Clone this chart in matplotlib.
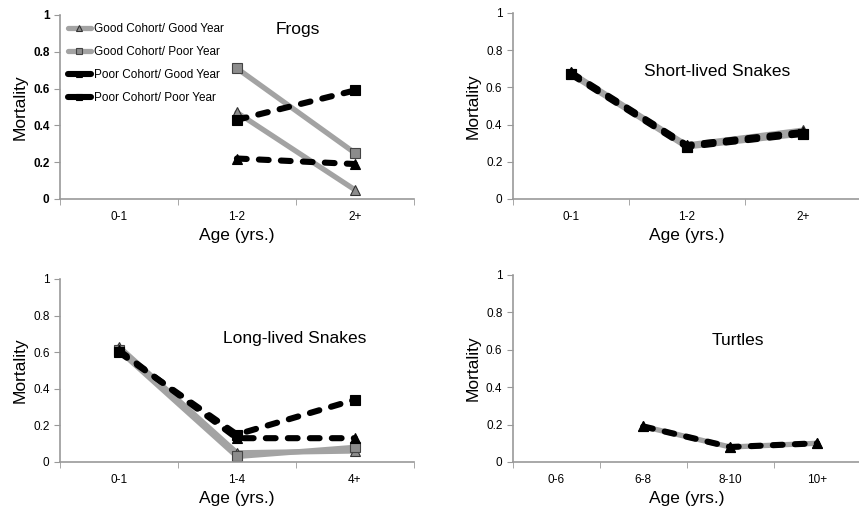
import matplotlib
matplotlib.use("Agg")
import matplotlib.pyplot as plt
from matplotlib.lines import Line2D

plt.rcParams['font.family'] = ['Liberation Sans', 'DejaVu Sans']

series_names = ['Good Cohort/ Good Year', 'Good Cohort/ Poor Year',
                'Poor Cohort/ Good Year', 'Poor Cohort/ Poor Year']

# Frogs (no data for 0-1)
frog_ages = ['0-1', '1-2', '2+']
frog_gg = [None, 0.47, 0.05]
frog_gp = [None, 0.71, 0.25]
frog_pg = [None, 0.22, 0.19]
frog_pp = [None, 0.43, 0.59]

# Short-lived snakes
short_ages = ['0-1', '1-2', '2+']
short_gg = [0.68, 0.29, 0.37]
short_gp = [0.67, 0.28, 0.35]
short_pg = [0.68, 0.29, 0.36]
short_pp = [0.67, 0.28, 0.35]

# Long-lived snakes
long_ages = ['0-1', '1-4', '4+']
long_gg = [0.63, 0.05, 0.06]
long_gp = [0.61, 0.03, 0.08]
long_pg = [0.61, 0.13, 0.13]
long_pp = [0.60, 0.15, 0.34]

# Turtles (no data for 0-6, only good-year series shown)
turtle_ages = ['0-6', '6-8', '8-10', '10+']
turtle_gg = [None, 0.19, 0.08, 0.10]
turtle_gp = [None, None, None, None]
turtle_pg = [None, 0.19, 0.08, 0.10]
turtle_pp = [None, None, None, None]

GRAY = '#a3a3a3'
DASH = (0, (1.6, 2.0))
styles = [
    dict(color=GRAY, ls='-', lw=3.8, marker='^', mfc='#8c8c8c', mec='#333333'),
    dict(color=GRAY, ls='-', lw=3.8, marker='s', mfc='#8c8c8c', mec='#444444'),
    dict(color='black', ls=DASH, lw=4.4, marker='^', mfc='black', mec='black'),
    dict(color='black', ls=DASH, lw=4.4, marker='s', mfc='black', mec='black'),
]
# draw order: poor/good year (black triangles) ends up on top
order = [0, 1, 3, 2]


def draw_panel(ax, ages, data, title, tx, ty, bold_ticks=False):
    n = len(ages)
    for k in order:
        vals = data[k]
        xs = [i for i, v in enumerate(vals) if v is not None]
        ys = [v for v in vals if v is not None]
        if not xs:
            continue
        ax.plot(xs, ys, ms=7, mew=0.8,
                dash_capstyle='round', solid_capstyle='round', **styles[k])
    ax.set_xlim(-0.5, n - 0.5)
    ax.set_ylim(0, 1)
    ax.set_yticks([0, 0.2, 0.4, 0.6, 0.8, 1])
    ax.set_yticklabels(['0', '0.2', '0.4', '0.6', '0.8', '1'],
                       fontweight='bold' if bold_ticks else 'normal')
    ax.set_xticks(range(n))
    ax.set_xticklabels(ages)
    ax.set_xticks([i - 0.5 for i in range(n + 1)], minor=True)
    ax.tick_params(axis='x', which='major', length=0, labelsize=8.5, pad=9)
    ax.tick_params(axis='x', which='minor', length=4, color='#999999', direction='out')
    ax.tick_params(axis='y', length=4, color='#999999', labelsize=8.5, direction='out')
    for s in ['top', 'right']:
        ax.spines[s].set_visible(False)
    for s in ['left', 'bottom']:
        ax.spines[s].set_color('#999999')
        ax.spines[s].set_linewidth(1.2)
    ax.set_ylabel('Mortality', fontsize=12.5)
    ax.set_xlabel('Age (yrs.)', fontsize=12.5, labelpad=3)
    ax.text(tx, ty, title, transform=ax.transAxes, ha='center', va='center', fontsize=12.5)


fig = plt.figure(figsize=(8.59, 5.07), dpi=100)
ax1 = fig.add_axes([0.0698, 0.6075, 0.412, 0.363])
ax2 = fig.add_axes([0.597, 0.6075, 0.405, 0.367])
ax3 = fig.add_axes([0.0698, 0.0888, 0.412, 0.361])
ax4 = fig.add_axes([0.597, 0.0888, 0.405, 0.369])

draw_panel(ax1, frog_ages, [frog_gg, frog_gp, frog_pg, frog_pp], 'Frogs', 0.672, 0.92, bold_ticks=True)
draw_panel(ax2, short_ages, [short_gg, short_gp, short_pg, short_pp], 'Short-lived Snakes', 0.586, 0.683)
draw_panel(ax3, long_ages, [long_gg, long_gp, long_pg, long_pp], 'Long-lived Snakes', 0.663, 0.672)
draw_panel(ax4, turtle_ages, [turtle_gg, turtle_gp, turtle_pg, turtle_pp], 'Turtles', 0.647, 0.647)

# legend handles: solid strokes, dashed ones just look like one fat dash
handles = []
for st in styles:
    h = dict(st)
    h['ls'] = '-'
    handles.append(Line2D([], [], ms=7, mew=0.8, solid_capstyle='round', **h))
ax1.legend(handles, series_names,
           loc='upper left', bbox_to_anchor=(0.0, 1.0), frameon=False,
           fontsize=8.5, handlelength=1.9, handletextpad=0.25,
           labelspacing=0.93, markerscale=0.55, borderaxespad=0.3)

fig.savefig('out.png', dpi=100)
